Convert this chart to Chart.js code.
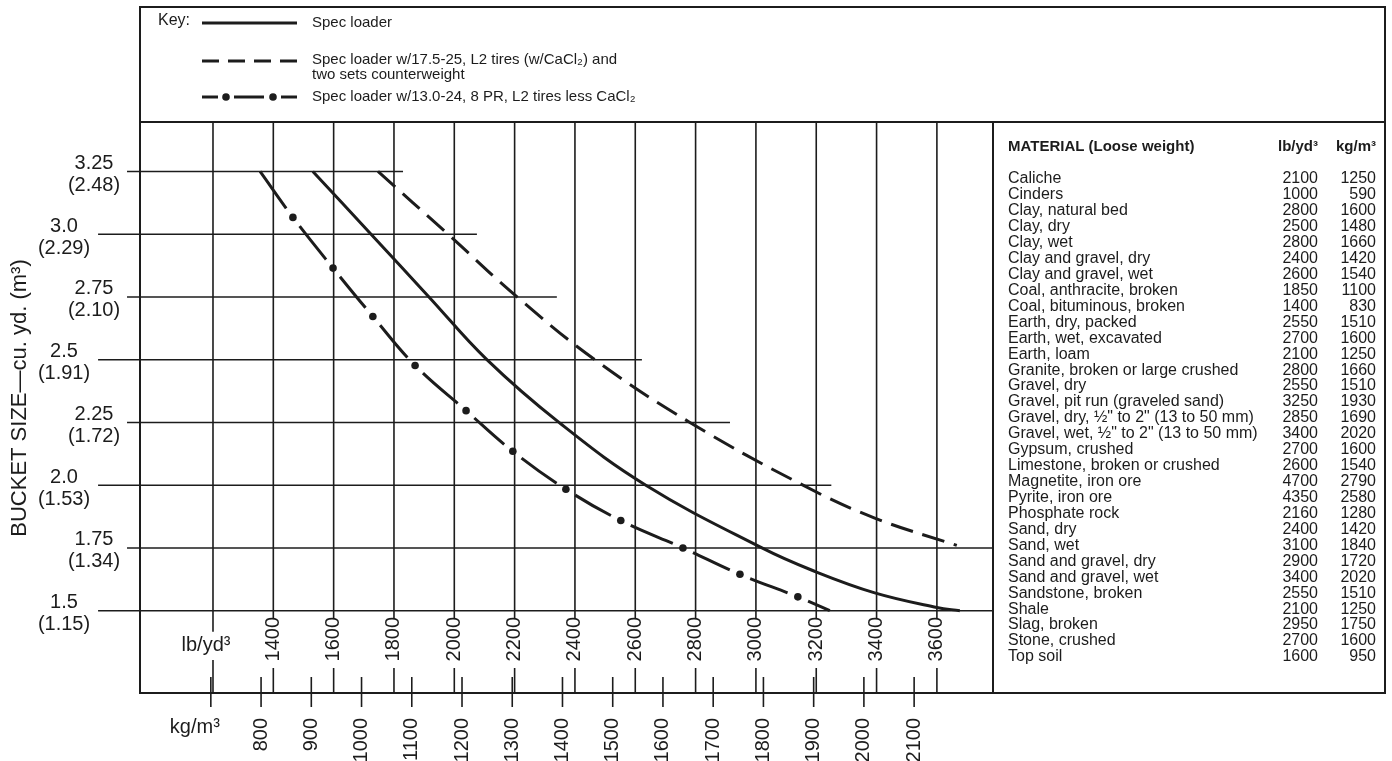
<!DOCTYPE html>
<html>
<head>
<meta charset="utf-8">
<title>Bucket size vs material weight</title>
<script src="https://cdn.jsdelivr.net/npm/chart.js@4.4.1/dist/chart.umd.min.js"></script>
<style>
  html, body { margin: 0; padding: 0; background: #fff; }
  #wrap { position: relative; width: 1392px; height: 761px; }
</style>
</head>
<body>
<div id="wrap"><canvas id="bucketChart"></canvas></div>
<script>
// bucket sizes, cu. yd. with the m3 value under it
const bucketSizes = [3.25, 3.0, 2.75, 2.5, 2.25, 2.0, 1.75, 1.5]
const bucketYdLabels = ['3.25', '3.0', '2.75', '2.5', '2.25', '2.0', '1.75', '1.5']
const bucketM3Labels = ['(2.48)', '(2.29)', '(2.10)', '(1.91)', '(1.72)', '(1.53)', '(1.34)', '(1.15)']
// each horizontal rule starts / stops at these lb/yd3 values
const ruleStartLb = [915, 819, 915, 819, 915, 819, 915, 819]
const ruleEndLb = [1830, 2075, 2340, 2622, 2914, 3250, 3786, 3786]

const lbTicks = [1200, 1400, 1600, 1800, 2000, 2200, 2400, 2600, 2800, 3000, 3200, 3400, 3600]
const kgTicks = [700, 800, 900, 1000, 1100, 1200, 1300, 1400, 1500, 1600, 1700, 1800, 1900, 2000, 2100]

// Spec loader
const specLb = [1531, 1724, 1916, 2108, 2347, 2635, 3020, 3186, 3394, 3600, 3676]
const specSize = [3.25, 3.0, 2.75, 2.5, 2.25, 2.0, 1.75, 1.661, 1.571, 1.513, 1.5]
// Spec loader w/17.5-25, L2 tires (w/CaCl2) and two sets counterweight
const cwLb = [1747, 1979, 2208, 2466, 2781, 3156, 3394, 3666]
const cwSize = [3.25, 3.0, 2.75, 2.5, 2.25, 2.0, 1.869, 1.76]
// Spec loader w/13.0-24, 8 PR, L2 tires less CaCl2
const lessLb = [1356, 1465, 1598, 1730, 1870, 2039, 2194, 2370, 2552, 2758, 2947, 3139, 3245]
const lessSize = [3.25, 3.067, 2.865, 2.672, 2.477, 2.297, 2.135, 1.984, 1.859, 1.75, 1.645, 1.555, 1.5]

const materials = ['Caliche', 'Cinders', 'Clay, natural bed', 'Clay, dry', 'Clay, wet', 'Clay and gravel, dry',
    'Clay and gravel, wet', 'Coal, anthracite, broken', 'Coal, bituminous, broken', 'Earth, dry, packed',
    'Earth, wet, excavated', 'Earth, loam', 'Granite, broken or large crushed', 'Gravel, dry',
    'Gravel, pit run (graveled sand)', 'Gravel, dry, \u00bd" to 2" (13 to 50 mm)', 'Gravel, wet, \u00bd" to 2" (13 to 50 mm)',
    'Gypsum, crushed', 'Limestone, broken or crushed', 'Magnetite, iron ore', 'Pyrite, iron ore', 'Phosphate rock',
    'Sand, dry', 'Sand, wet', 'Sand and gravel, dry', 'Sand and gravel, wet', 'Sandstone, broken', 'Shale',
    'Slag, broken', 'Stone, crushed', 'Top soil']
const materialLb = [2100, 1000, 2800, 2500, 2800, 2400, 2600, 1850, 1400, 2550, 2700, 2100, 2800, 2550, 3250, 2850,
    3400, 2700, 2600, 4700, 4350, 2160, 2400, 3100, 2900, 3400, 2550, 2100, 2950, 2700, 1600]
const materialKg = [1250, 590, 1600, 1480, 1660, 1420, 1540, 1100, 830, 1510, 1600, 1250, 1660, 1510, 1930, 1690,
    2020, 1600, 1540, 2790, 2580, 1280, 1420, 1840, 1720, 2020, 1510, 1250, 1750, 1600, 950]

const ink = '#1c1c1c'
const font = '"Liberation Sans", Arial, sans-serif'

function seg(ctx, x1, y1, x2, y2) {
    ctx.beginPath()
    ctx.moveTo(x1, y1)
    ctx.lineTo(x2, y2)
    ctx.stroke()
}

// rotated label, reading bottom to top, its top end at py
function upText(ctx, str, px, py) {
    ctx.save()
    ctx.translate(px, py)
    ctx.rotate(-Math.PI / 2)
    ctx.textAlign = 'right'
    ctx.textBaseline = 'middle'
    ctx.fillText(str, 0, 0)
    ctx.restore()
}

const paperPlugin = {
    id: 'paper',
    beforeDatasetsDraw(chart) {
        const { ctx, chartArea: a, scales: { x, y } } = chart
        const lowRule = y.getPixelForValue(bucketSizes[bucketSizes.length - 1])
        ctx.save()
        ctx.strokeStyle = ink
        ctx.lineWidth = 1.6
        lbTicks.forEach((v, i) => {
            const px = x.getPixelForValue(v)
            seg(ctx, px, a.top, px, lowRule + (i === 0 ? 21 : 8))
        })
        ctx.restore()
    },
    afterDraw(chart) {
        const { ctx, chartArea: a, scales: { x, y, xkg } } = chart
        ctx.save()
        ctx.strokeStyle = ink
        ctx.fillStyle = ink

        // frame, key box and table box
        const frameRight = 1385
        ctx.lineWidth = 2
        ctx.strokeRect(a.left, 7, frameRight - a.left, a.bottom - 7)
        seg(ctx, a.left, a.top, frameRight, a.top)
        seg(ctx, a.right, a.top, a.right, a.bottom)

        // lb/yd3 ticks (above the base line) and labels
        ctx.lineWidth = 1.6
        ctx.font = '20px ' + font
        lbTicks.forEach((v, i) => {
            const px = x.getPixelForValue(v)
            seg(ctx, px, a.bottom - (i === 0 ? 33 : 25), px, a.bottom)
            if (i > 0) upText(ctx, String(v), px, a.bottom - 76)
        })
        ctx.textAlign = 'center'
        ctx.textBaseline = 'middle'
        ctx.fillText('lb/yd\u00b3', x.getPixelForValue(lbTicks[0]) - 7, a.bottom - 48)

        // kg/m3 ticks cross the base line
        kgTicks.forEach((v, i) => {
            const px = xkg.getPixelForValue(v)
            seg(ctx, px, a.bottom - 16, px, a.bottom + 14)
            if (i > 0) upText(ctx, String(v), px, a.bottom + 25)
        })
        ctx.textAlign = 'center'
        ctx.fillText('kg/m\u00b3', xkg.getPixelForValue(kgTicks[0]) - 16, a.bottom + 34)

        // bucket size labels, staggered in two columns
        ctx.font = '20px ' + font
        bucketSizes.forEach((v, i) => {
            const py = y.getPixelForValue(v)
            const cx = i % 2 === 0 ? 94 : 64
            ctx.fillText(bucketYdLabels[i], cx, py - 8)
            ctx.fillText(bucketM3Labels[i], cx, py + 14)
        })
        ctx.save()
        ctx.translate(20, 398)
        ctx.rotate(-Math.PI / 2)
        ctx.font = '22px ' + font
        ctx.fillText('BUCKET SIZE\u2014cu. yd. (m\u00b3)', 0, 0)
        ctx.restore()

        // key
        ctx.textAlign = 'left'
        ctx.font = '16px ' + font
        ctx.fillText('Key:', 158, 21)
        ctx.font = '15px ' + font
        ctx.lineWidth = 3
        seg(ctx, 202, 23, 297, 23)
        ctx.fillText('Spec loader', 312, 23)
        ctx.setLineDash([17, 9])
        seg(ctx, 202, 61, 297, 61)
        ctx.setLineDash([])
        ctx.fillText('Spec loader w/17.5-25, L2 tires (w/CaCl\u2082) and', 312, 60)
        ctx.fillText('two sets counterweight', 312, 75)
        seg(ctx, 202, 97, 218, 97)
        seg(ctx, 234, 97, 264, 97)
        seg(ctx, 281, 97, 297, 97)
        ;[226, 273].forEach(cx => {
            ctx.beginPath()
            ctx.arc(cx, 97, 3.8, 0, Math.PI * 2)
            ctx.fill()
        })
        ctx.fillText('Spec loader w/13.0-24, 8 PR, L2 tires less CaCl\u2082', 312, 97)

        // material table
        ctx.font = 'bold 15px ' + font
        ctx.fillText('MATERIAL (Loose weight)', 1008, 147)
        ctx.textAlign = 'right'
        ctx.fillText('lb/yd\u00b3', 1318, 147)
        ctx.fillText('kg/m\u00b3', 1376, 147)
        ctx.font = '16px ' + font
        materials.forEach((m, i) => {
            const ty = 179 + i * 15.93
            ctx.textAlign = 'left'
            ctx.fillText(m, 1008, ty)
            ctx.textAlign = 'right'
            ctx.fillText(String(materialLb[i]), 1318, ty)
            ctx.fillText(String(materialKg[i]), 1376, ty)
        })
        ctx.restore()
    }
}

const toPts = (xs, ys) => xs.map((v, i) => ({ x: v, y: ys[i] }))

const ruleSets = bucketSizes.map((v, i) => ({
    data: [{ x: ruleStartLb[i], y: v }, { x: ruleEndLb[i], y: v }],
    borderColor: ink,
    borderWidth: 1.6,
    pointRadius: 0,
    clip: false,
    order: 5
}))

const lastLess = lessLb.length - 1
const chart = new Chart(document.getElementById('bucketChart'), {
    type: 'line',
    data: {
        datasets: [
            {
                label: 'Spec loader',
                data: toPts(specLb, specSize),
                borderColor: ink,
                borderWidth: 3,
                pointRadius: 0,
                tension: 0.4,
                clip: false,
                order: 0
            },
            {
                label: 'Spec loader w/17.5-25, L2 tires (w/CaCl2) and two sets counterweight',
                data: toPts(cwLb, cwSize),
                borderColor: ink,
                borderWidth: 3,
                borderDash: [23, 10],
                pointRadius: 0,
                tension: 0.4,
                clip: false,
                order: 0
            },
            {
                label: 'Spec loader w/13.0-24, 8 PR, L2 tires less CaCl2',
                data: toPts(lessLb, lessSize),
                borderColor: ink,
                borderWidth: 3,
                pointRadius: lessLb.map((v, i) => (i === 0 || i === lastLess) ? 0 : 3.8),
                pointBackgroundColor: ink,
                pointBorderWidth: 0,
                tension: 0.4,
                clip: false,
                order: 0,
                segment: {
                    // one dash between two dots, with a gap round each dot
                    borderDash: c => {
                        const len = Math.hypot(c.p1.x - c.p0.x, c.p1.y - c.p0.y)
                        const g0 = c.p0DataIndex === 0 ? 0 : 11
                        const g1 = c.p1DataIndex === lastLess ? 0 : 11
                        return [Math.max(len - g0 - g1, 1), 1000]
                    },
                    borderDashOffset: c => (c.p0DataIndex === 0 ? 0 : -11)
                }
            },
            ...ruleSets
        ]
    },
    options: {
        responsive: true,
        maintainAspectRatio: false,
        animation: false,
        events: [],
        layout: { padding: { left: 140, right: 399, top: 122, bottom: 68 } },
        scales: {
            x: { type: 'linear', min: 958, max: 3786, display: false },
            xkg: { type: 'linear', axis: 'x', min: 559, max: 2257, display: false },
            y: { type: 'linear', min: 1.172, max: 3.447, display: false }
        },
        plugins: {
            legend: { display: false },
            tooltip: { enabled: false }
        }
    },
    plugins: [paperPlugin]
})
</script>
</body>
</html>
